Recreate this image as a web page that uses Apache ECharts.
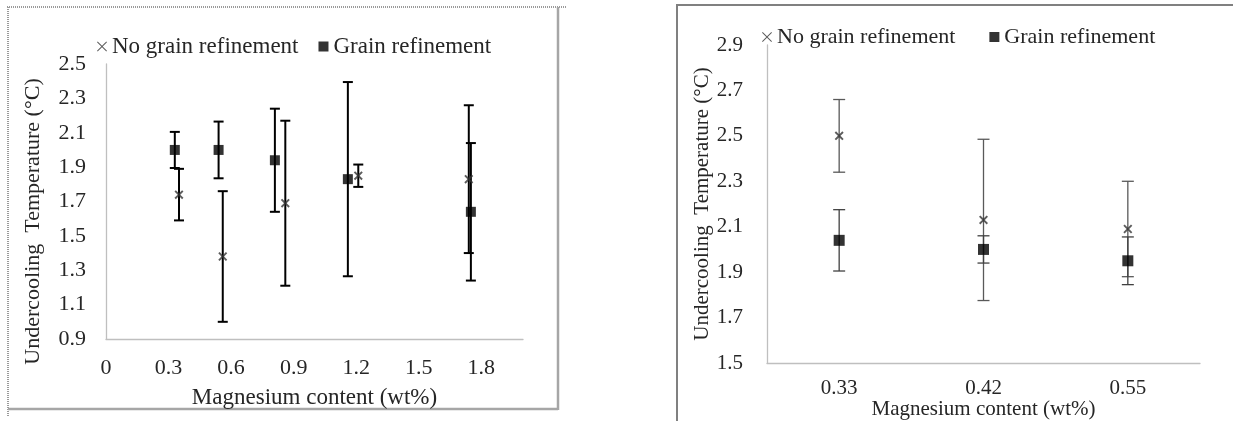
<!DOCTYPE html>
<html>
<head>
<meta charset="utf-8">
<script src="https://cdn.jsdelivr.net/npm/echarts@6.0.0/dist/echarts.min.js"></script>
<style>
html, body { margin: 0; padding: 0; background: #fff; }
#grafico { width: 1233px; height: 421px; }
</style>
</head>
<body>
<div id="grafico"></div>
<script>
// left chart: Mg content as a value axis
const leftMgNoGR = [0.35, 0.56, 0.86, 1.21, 1.74]
const leftTempNoGR = [1.74, 1.38, 1.69, 1.85, 1.83]
const leftErrNoGR = [0.15, 0.38, 0.48, 0.065, 0.43]

const leftMgGR = [0.33, 0.54, 0.81, 1.16, 1.75]
const leftTempGR = [2.00, 2.00, 1.94, 1.83, 1.64]
const leftErrGR = [0.105, 0.165, 0.30, 0.565, 0.40]

const leftXTicks = ['0', '0.3', '0.6', '0.9', '1.2', '1.5', '1.8']
const leftYTicks = ['0.9', '1.1', '1.3', '1.5', '1.7', '1.9', '2.1', '2.3', '2.5']

// right chart: Mg content as categories
const rightMg = ['0.33', '0.42', '0.55']
const rightTempNoGR = [2.50, 2.13, 2.09]
const rightErrNoGR = [0.16, 0.355, 0.21]
const rightTempGR = [2.04, 2.00, 1.95]
const rightErrGR = [0.135, 0.06, 0.105]
const rightYTicks = ['1.5', '1.7', '1.9', '2.1', '2.3', '2.5', '2.7', '2.9']

const NAME_NO = 'No grain refinement'
const NAME_GR = 'Grain refinement'
const FONT = 'Liberation Serif'
const CROSS = 'path://M0,1.5L1.5,0L5,3.5L8.5,0L10,1.5L6.5,5L10,8.5L8.5,10L5,6.5L1.5,10L0,8.5L3.5,5Z'
const CROSS_THIN = 'path://M0,0.7L0.7,0L5,4.3L9.3,0L10,0.7L5.7,5L10,9.3L9.3,10L5,5.7L0.7,10L0,9.3L4.3,5Z'

function puntos(xs, ys) {
  return xs.map((x, i) => [x, ys[i]])
}
function barras(xs, ys, errs) {
  return xs.map((x, i) => [x, ys[i] - errs[i], ys[i] + errs[i]])
}
function etiqueta(lista) {
  return function (v) {
    const s = String(Math.round(v * 10) / 10)
    const t = (Math.round(v * 10) / 10).toFixed(1)
    if (lista.indexOf(s) >= 0) return s
    if (lista.indexOf(t) >= 0) return t
    return ''
  }
}
function errorBar(color, width, cap) {
  return function (params, api) {
    const top = api.coord([api.value(0), api.value(2)])
    const bot = api.coord([api.value(0), api.value(1)])
    const st = { stroke: color, lineWidth: width }
    return {
      type: 'group',
      children: [
        { type: 'line', shape: { x1: top[0], y1: top[1], x2: bot[0], y2: bot[1] }, style: st },
        { type: 'line', shape: { x1: top[0] - cap, y1: top[1], x2: top[0] + cap, y2: top[1] }, style: st },
        { type: 'line', shape: { x1: bot[0] - cap, y1: bot[1], x2: bot[0] + cap, y2: bot[1] }, style: st }
      ]
    }
  }
}

const chart = echarts.init(document.getElementById('grafico'))

const axisGray = { lineStyle: { color: '#bfbfbf', width: 1.3 } }
const dotted = { stroke: '#9a9a9a', lineWidth: 2, lineDash: [1, 1] }
const solid = { stroke: '#a6a6a6', lineWidth: 2.5 }

const option = {
  animation: false,
  textStyle: { fontFamily: FONT, color: '#262626' },
  graphic: [
    // frame of the left panel
    { type: 'line', shape: { x1: 7, y1: 7, x2: 566, y2: 7 }, style: dotted },
    { type: 'line', shape: { x1: 8, y1: 7, x2: 8, y2: 416 }, style: dotted },
    { type: 'line', shape: { x1: 558, y1: 7, x2: 558, y2: 410 }, style: solid },
    { type: 'line', shape: { x1: 8, y1: 409, x2: 558, y2: 409 }, style: solid },
    // frame of the right panel
    { type: 'rect', shape: { x: 677, y: 5, width: 600, height: 460 }, style: { fill: 'none', stroke: '#808080', lineWidth: 2 } }
  ],
  legend: [
    {
      left: 92, top: 30, itemWidth: 10, itemHeight: 10, itemGap: 20,
      data: [{ name: NAME_NO, icon: CROSS_THIN }, { name: NAME_GR, icon: 'rect' }],
      textStyle: { fontFamily: FONT, fontSize: 23, color: '#262626' }
    },
    {
      left: 757, top: 21, itemWidth: 10, itemHeight: 10, itemGap: 34,
      data: [{ name: NAME_NO, icon: CROSS_THIN }, { name: NAME_GR, icon: 'rect' }],
      textStyle: { fontFamily: FONT, fontSize: 22, color: '#262626' }
    }
  ],
  grid: [
    { left: 106, right: 710, top: 64, bottom: 82, containLabel: false, outerBoundsMode: 'none' },
    { left: 767, right: 33, top: 45, bottom: 58, containLabel: false, outerBoundsMode: 'none' }
  ],
  xAxis: [
    {
      gridIndex: 0, type: 'value', min: 0, max: 2.0, interval: 0.3,
      axisLine: axisGray, axisTick: { show: false }, splitLine: { show: false },
      axisLabel: { fontSize: 22, color: '#262626', margin: 18, showMaxLabel: false, formatter: etiqueta(leftXTicks) },
      name: 'Magnesium content (wt%)', nameLocation: 'middle', nameGap: 47, nameMoveOverlap: false,
      nameTextStyle: { fontSize: 23, color: '#262626' }
    },
    {
      gridIndex: 1, type: 'category', data: rightMg, boundaryGap: true,
      axisLine: axisGray, axisTick: { show: false },
      axisLabel: { fontSize: 21, color: '#262626', margin: 15 },
      name: 'Magnesium content (wt%)', nameLocation: 'middle', nameGap: 36, nameMoveOverlap: false,
      nameTextStyle: { fontSize: 21, color: '#262626' }
    }
  ],
  yAxis: [
    {
      gridIndex: 0, type: 'value', min: 0.9, max: 2.5, interval: 0.1,
      axisLine: { show: true, lineStyle: { color: '#bfbfbf', width: 1.3 } }, axisTick: { show: false }, splitLine: { show: false },
      axisLabel: { fontSize: 22, color: '#262626', margin: 20, formatter: etiqueta(leftYTicks) },
      name: 'Undercooling  Temperature (°C)', nameLocation: 'middle', nameGap: 62, nameMoveOverlap: false,
      nameTextStyle: { fontSize: 22, color: '#262626', padding: [0, 40, 0, 0] }
    },
    {
      gridIndex: 1, type: 'value', min: 1.5, max: 2.9, interval: 0.1,
      axisLine: { show: true, lineStyle: { color: '#bfbfbf', width: 1.3 } }, axisTick: { show: false }, splitLine: { show: false },
      axisLabel: { fontSize: 21, color: '#262626', margin: 24, formatter: etiqueta(rightYTicks) },
      name: 'Undercooling  Temperature (°C)', nameLocation: 'middle', nameGap: 54, nameMoveOverlap: false,
      nameTextStyle: { fontSize: 21, color: '#262626' }
    }
  ],
  series: [
    {
      type: 'custom', xAxisIndex: 0, yAxisIndex: 0, z: 1,
      renderItem: errorBar('#000', 2, 5), data: barras(leftMgNoGR, leftTempNoGR, leftErrNoGR)
    },
    {
      type: 'custom', xAxisIndex: 0, yAxisIndex: 0, z: 1,
      renderItem: errorBar('#000', 2, 5), data: barras(leftMgGR, leftTempGR, leftErrGR)
    },
    {
      name: NAME_NO, type: 'scatter', xAxisIndex: 0, yAxisIndex: 0, z: 3,
      symbol: CROSS, symbolSize: 9, itemStyle: { color: '#333' },
      data: puntos(leftMgNoGR, leftTempNoGR)
    },
    {
      name: NAME_GR, type: 'scatter', xAxisIndex: 0, yAxisIndex: 0, z: 3,
      symbol: 'rect', symbolSize: 10, itemStyle: { color: '#000' },
      data: puntos(leftMgGR, leftTempGR)
    },
    {
      type: 'custom', xAxisIndex: 1, yAxisIndex: 1, z: 1,
      renderItem: errorBar('#595959', 1.3, 6), data: barras([0, 1, 2], rightTempNoGR, rightErrNoGR)
    },
    {
      type: 'custom', xAxisIndex: 1, yAxisIndex: 1, z: 1,
      renderItem: errorBar('#404040', 1.3, 6), data: barras([0, 1, 2], rightTempGR, rightErrGR)
    },
    {
      name: NAME_NO, type: 'scatter', xAxisIndex: 1, yAxisIndex: 1, z: 3,
      symbol: CROSS, symbolSize: 9, itemStyle: { color: '#333' },
      data: puntos(rightMg, rightTempNoGR)
    },
    {
      name: NAME_GR, type: 'scatter', xAxisIndex: 1, yAxisIndex: 1, z: 3,
      symbol: 'rect', symbolSize: 11, itemStyle: { color: '#000' },
      data: puntos(rightMg, rightTempGR)
    }
  ]
}

chart.setOption(option)
</script>
</body>
</html>
